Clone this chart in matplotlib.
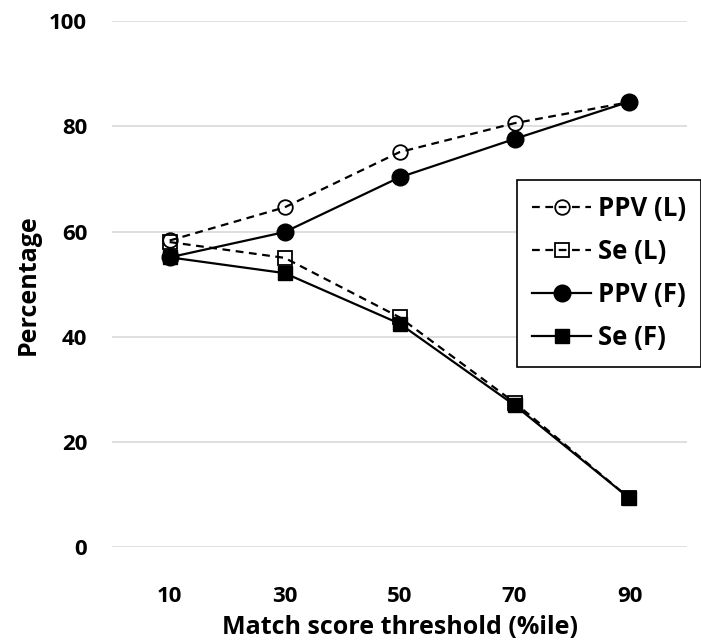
import matplotlib
matplotlib.use("Agg")
import matplotlib.pyplot as plt

# data
thresholds = ["10", "30", "50", "70", "90"]
ppv_l = [58.3, 64.6, 75.1, 80.6, 84.6]
se_l = [58.0, 55.0, 43.7, 27.5, 9.3]
ppv_f = [55.1, 59.9, 70.3, 77.6, 84.7]
se_f = [55.1, 52.1, 42.5, 27.0, 9.3]
y_ticks = [0, 20, 40, 60, 80, 100]

plt.rcParams['font.family'] = ['Open Sans', 'DejaVu Sans']
plt.rcParams['font.weight'] = 'bold'

fig = plt.figure(figsize=(7.01, 6.4), dpi=100)
ax = fig.add_axes([0.16, 0.145, 0.82, 0.822])

x = list(range(len(thresholds)))
lw = 1.6
ax.plot(x, ppv_l, linestyle=(0, (3.5, 2.5)), color='black', lw=lw, marker='o',
        markersize=10.5, markerfacecolor='none', markeredgecolor='black',
        markeredgewidth=1.3, label='PPV (L)', zorder=3)
ax.plot(x, se_l, linestyle=(0, (3.5, 2.5)), color='black', lw=lw, marker='s',
        markersize=10, markerfacecolor='none', markeredgecolor='black',
        markeredgewidth=1.3, label='Se (L)', zorder=3)
ax.plot(x, ppv_f, linestyle='-', color='black', lw=lw, marker='o',
        markersize=12, markerfacecolor='black', markeredgecolor='black',
        label='PPV (F)', zorder=4)
ax.plot(x, se_f, linestyle='-', color='black', lw=lw, marker='s',
        markersize=10.5, markerfacecolor='black', markeredgecolor='black',
        label='Se (F)', zorder=4)

ax.set_xlim(-0.5, len(thresholds) - 0.5)
ax.set_ylim(0, 100)
ax.set_xticks(x)
ax.set_xticklabels(thresholds, fontsize=16, fontweight='bold')
ax.set_yticks(y_ticks)
ax.set_yticklabels([str(v) for v in y_ticks], fontsize=16, fontweight='bold')
ax.tick_params(axis='both', length=0)
ax.tick_params(axis='x', pad=28)
ax.tick_params(axis='y', pad=18)

# light gray gridlines, no spines (Excel look)
for v in y_ticks:
    ax.axhline(v, color='#d9d9d9', lw=1.2, zorder=0)
for s in ax.spines.values():
    s.set_visible(False)

ax.set_xlabel('Match score threshold (%ile)', fontsize=18, fontweight='bold', labelpad=6)
ax.set_ylabel('Percentage', fontsize=18, fontweight='bold', labelpad=6)

leg = ax.legend(loc='upper left', bbox_to_anchor=(0.704, 0.698), borderaxespad=0,
                fancybox=False, edgecolor='black', framealpha=1,
                prop={'size': 18.5, 'weight': 'bold'}, handlelength=2.3,
                labelspacing=0.62, borderpad=0.6, handletextpad=0.25)
leg.get_frame().set_linewidth(1.2)
leg.set_clip_on(False)

fig.savefig('out.png', dpi=100)
